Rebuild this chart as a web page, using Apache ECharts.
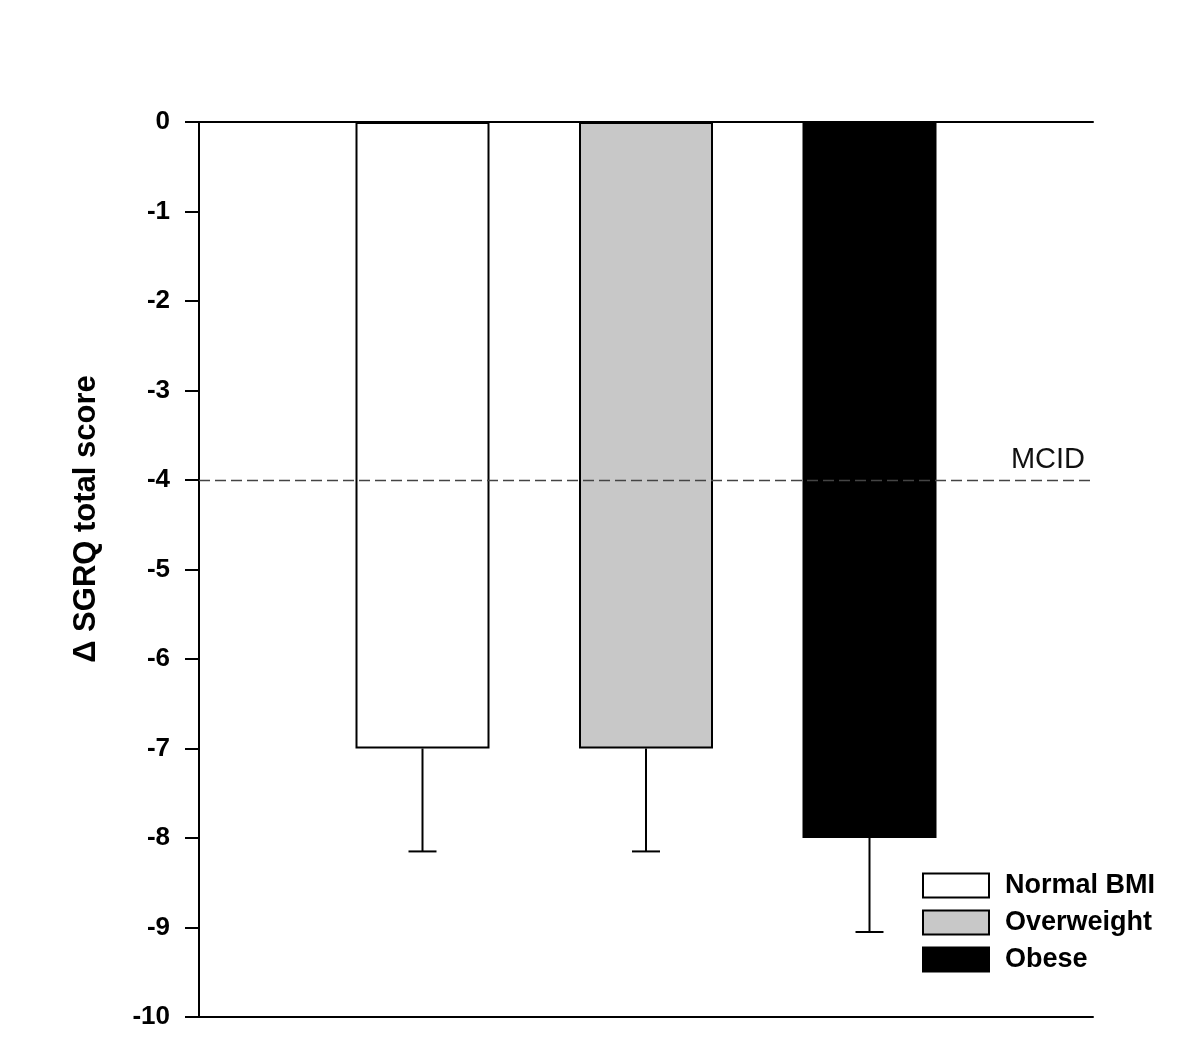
<!DOCTYPE html>
<html><head><meta charset="utf-8">
<script src="https://cdn.jsdelivr.net/npm/echarts@6/dist/echarts.min.js"></script>
<style>html,body{margin:0;padding:0;background:#fff}#c{width:1200px;height:1049px}</style>
</head><body><div id="c"></div>
<script>
const categories = ['Normal BMI', 'Overweight', 'Obese'];
const positions = [1, 2, 3];
const means = [-7, -7, -8];
const errLow = [-8.15, -8.15, -9.05];
const fills = ['#ffffff', '#c8c8c8', '#000000'];
const yTicks = [0, -1, -2, -3, -4, -5, -6, -7, -8, -9, -10];
const mcid = -4;

const chart = echarts.init(document.getElementById('c'));
const FONT = 'Arial, "Liberation Sans", Helvetica, sans-serif';

const barSeries = categories.map((name, i) => ({
  name: name,
  type: 'bar',
  barWidth: 134,
  barGap: '-100%',
  data: [[positions[i], means[i]]],
  itemStyle: { color: fills[i], borderColor: '#000', borderWidth: 2 },
  z: 3,
  markLine: i === 0 ? {
    symbol: 'none', silent: true,
    lineStyle: { color: '#444', type: [11, 5], width: 1.4 },
    label: { show: true, position: 'insideEndTop', formatter: 'MCID', color: '#111', fontSize: 29, fontFamily: FONT, distance: [8, 6] },
    data: [{ yAxis: mcid }]
  } : undefined
}));

const errSeries = {
  type: 'custom',
  z: 2,
  data: positions.map((p, i) => [p, means[i], errLow[i]]),
  renderItem: function (params, api) {
    const x = api.value(0);
    const top = api.coord([x, api.value(1)]);
    const bot = api.coord([x, api.value(2)]);
    const hw = 14;
    const st = { stroke: '#000', lineWidth: 2 };
    return { type: 'group', children: [
      { type: 'line', shape: { x1: top[0], y1: top[1], x2: bot[0], y2: bot[1] }, style: st },
      { type: 'line', shape: { x1: bot[0] - hw, y1: bot[1], x2: bot[0] + hw, y2: bot[1] }, style: st }
    ]};
  }
};

chart.setOption({
  backgroundColor: '#fff',
  animation: false,
  grid: { left: 199, right: 107, top: 122, bottom: 32 },
  xAxis: [
    { type: 'value', min: 0, max: 4, position: 'bottom', axisLine: { onZero: false, lineStyle: { color: '#000', width: 2 } }, axisTick: { show: false }, axisLabel: { show: false }, splitLine: { show: false } },
    { type: 'value', min: 0, max: 4, position: 'top', axisLine: { onZero: false, lineStyle: { color: '#000', width: 2 } }, axisTick: { show: false }, axisLabel: { show: false }, splitLine: { show: false } }
  ],
  yAxis: {
    type: 'value', min: -10, max: 0, interval: 1,
    axisLine: { show: true, lineStyle: { color: '#000', width: 2 } },
    axisTick: { show: true, length: 14, lineStyle: { color: '#000', width: 2 } },
    axisLabel: { color: '#000', fontSize: 26, fontWeight: 'bold', fontFamily: FONT, margin: 29,
      formatter: v => yTicks.includes(v) ? String(v) : '' },
    splitLine: { show: false }
  },
  legend: {
    orient: 'vertical', left: 917, top: 867, itemWidth: 66, itemHeight: 24, itemGap: 10,
    icon: 'rect',
    textStyle: { color: '#000', fontSize: 27, fontWeight: 'bold', fontFamily: FONT, padding: [0, 0, 0, 11] },
    data: categories
  },
  graphic: [{
    type: 'text', x: 86, y: 519, rotation: Math.PI / 2,
    style: { text: 'Δ SGRQ total score', font: 'bold 31px ' + FONT, fill: '#000', textAlign: 'center', textVerticalAlign: 'middle' }
  }],
  series: barSeries.concat([errSeries])
});
</script></body></html>
